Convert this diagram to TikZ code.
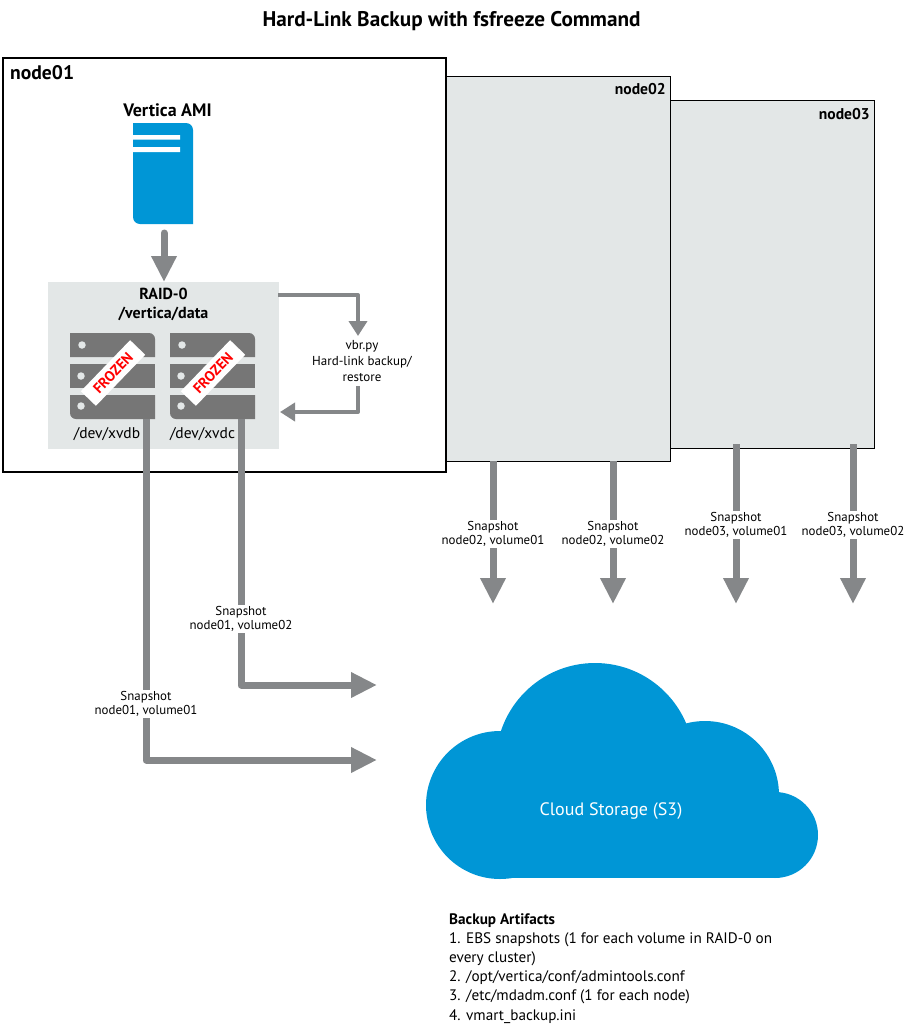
\documentclass[tikz,border=0pt]{standalone}
\usepackage{fontspec}
\setmainfont{PT Sans}
\usetikzlibrary{arrows.meta}
\definecolor{hpblue}{HTML}{0096D6}
\definecolor{panel}{HTML}{E3E7E7}
\definecolor{arrowgray}{HTML}{858789}
\definecolor{diskgray}{HTML}{767676}
\tikzset{
  frame/.style={draw=black,line width=1.8pt,anchor=north west,inner sep=0pt},
  peer/.style={frame,fill=panel,line width=1.4pt},
  bigarrow/.style={draw=arrowgray,line width=7pt,line join=round,-{Triangle[width=24pt,length=26pt]}},
  smallarrow/.style={draw=arrowgray,line width=4pt,line join=round,-{Triangle[width=18pt,length=15pt]}},
  snap/.style={font=\fontsize{12.9}{14.5}\selectfont,align=center,fill=white,inner sep=1.5pt},
  headtxt/.style={font=\fontsize{15.6}{18}\selectfont\bfseries,inner sep=0pt},
  diskbar/.style={fill=diskgray,draw=none},
  dot/.style={fill=panel,draw=none,circle,minimum size=7.5pt,inner sep=0pt},
  band/.style={fill=white,rotate=46,minimum width=71pt,minimum height=21pt,inner sep=0pt,text=red,font=\fontsize{14.5}{14.5}\selectfont\bfseries},
  cloudpart/.style={fill=hpblue,draw=none}
}
\begin{document}
\begin{tikzpicture}[x=1pt,y=-1pt]
\useasboundingbox (0,0) rectangle (912,1033);
\node[font=\fontsize{21.2}{24}\selectfont\bfseries,inner sep=0pt] (title) at (451.5,21) {Hard-Link Backup with fsfreeze Command};
% frames
\node[peer,minimum width=204pt,minimum height=348pt] (n3) at (670,100) {};
\node[peer,minimum width=225pt,minimum height=385pt] (n2) at (445,76) {};
\node[frame,fill=white,minimum width=443pt,minimum height=414pt] (n1) at (2,57) {};
\node[headtxt,font=\fontsize{19.6}{22}\selectfont\bfseries,anchor=west] (n1t) at (10,73) {node01};
\node[headtxt,anchor=east] (n2t) at (666,89) {node02};
\node[headtxt,anchor=east] (n3t) at (870,114) {node03};
% AMI
\node[headtxt,font=\fontsize{18}{20}\selectfont\bfseries] (amit) at (167.5,110) {Vertica AMI};
\fill[hpblue] (133,123) -- (186,123) to[out=0,in=90] (193,130) -- (193,224) -- (140,224) to[out=180,in=-90] (133,217) -- cycle;
\fill[white] (133,135) rectangle (180,139.5) (133,147) rectangle (180,152);
\coordinate (amibottom) at (164,233);
\coordinate (raidtop) at (164,282);
\draw[bigarrow,line cap=round] (amibottom) -- (raidtop);
% RAID
\node[fill=panel,anchor=north west,minimum width=231pt,minimum height=167pt,inner sep=0pt] (raid) at (48,282) {};
\node[headtxt,align=center,font=\fontsize{16}{19}\selectfont\bfseries,anchor=north] (raidt) at (163.5,288) {RAID-0\\/vertica/data};
% disks
\foreach \n/\x in {d1/70,d2/170}{
  \begin{scope}[shift={(\x,0)}]
    \path[diskbar] (0,333) -- (79,333) to[out=0,in=90] (85,339) -- (85,357) -- (0,357) -- cycle;
    \path[diskbar] (0,364) rectangle (85,388);
    \path[diskbar] (0,395) -- (85,395) -- (85,419) -- (6,419) to[out=180,in=-90] (0,413) -- cycle;
    \node[dot] at (12,345) {};
    \node[dot] at (11,376) {};
    \node[dot] at (11,406) {};
    \coordinate (\n) at (0,0);
  \end{scope}
}
\node[band] (f1) at (113,373) {FROZEN};
\node[band] (f2) at (213,373) {FROZEN};
\node[font=\fontsize{15.5}{18}\selectfont,inner sep=0pt] (xb) at (107,434) {/dev/xvdb};
\node[font=\fontsize{15.5}{18}\selectfont,inner sep=0pt] (xc) at (202.5,434) {/dev/xvdc};
% vbr
\node[font=\fontsize{13}{16}\selectfont,align=center,inner sep=0pt] (vbr) at (362,361) {vbr.py\\Hard-link backup/\\restore};
\coordinate (raidout) at (278,295);
\coordinate (vbrin) at (358,336);
\coordinate (vbrout) at (358,386);
\coordinate (raidin) at (280,412);
\draw[smallarrow] (raidout) -| (vbrin);
\draw[smallarrow] (vbrout) |- (raidin);
% cloud
\fill[cloudpart] (500,805) circle (74);
\fill[cloudpart] (595,762) circle (99);
\fill[cloudpart] (705,795) circle (74);
\fill[cloudpart] (775,835) circle (43);
\fill[cloudpart] (500,800) rectangle (775,878);
\node[text=white,font=\fontsize{18}{20}\selectfont,inner sep=0pt] (cloud) at (611,811) {Cloud Storage (S3)};
% node01 long arrows
\coordinate (b0) at (146,419);
\coordinate (b1) at (146,760);
\coordinate (bend) at (377,760);
\coordinate (c0) at (241,419);
\coordinate (c1) at (241,685);
\coordinate (cend) at (377,685);
\draw[bigarrow] (b0) -- (b1) -- (bend);
\draw[bigarrow] (c0) -- (c1) -- (cend);
\node[snap] (s1) at (146,704) {Snapshot\\node01, volume01};
\node[snap] (s2) at (241,619) {Snapshot\\node01, volume02};
% peers
\coordinate (p1a) at (493,461); \coordinate (p1b) at (493,604);
\coordinate (p2a) at (613,461); \coordinate (p2b) at (613,604);
\coordinate (p3a) at (736,444); \coordinate (p3b) at (736,604);
\coordinate (p4a) at (853,444); \coordinate (p4b) at (853,604);
\draw[bigarrow] (p1a) -- (p1b);
\draw[bigarrow] (p2a) -- (p2b);
\draw[bigarrow] (p3a) -- (p3b);
\draw[bigarrow] (p4a) -- (p4b);
\node[snap] (s3) at (493,534) {Snapshot\\node02, volume01};
\node[snap] (s4) at (613,534) {Snapshot\\node02, volume02};
\node[snap] (s5) at (736,525) {Snapshot\\node03, volume01};
\node[snap] (s6) at (853,525) {Snapshot\\node03, volume02};
% artifacts
\node[anchor=north west,align=left,inner sep=0pt,font=\fontsize{15.2}{19.2}\selectfont] (art) at (449,913) {\textbf{Backup Artifacts}\\1. EBS snapshots (1 for each volume in RAID-0 on\\every cluster)\\2. /opt/vertica/conf/admintools.conf\\3. /etc/mdadm.conf (1 for each node)\\4. vmart\_backup.ini};
\end{tikzpicture}
\end{document}
